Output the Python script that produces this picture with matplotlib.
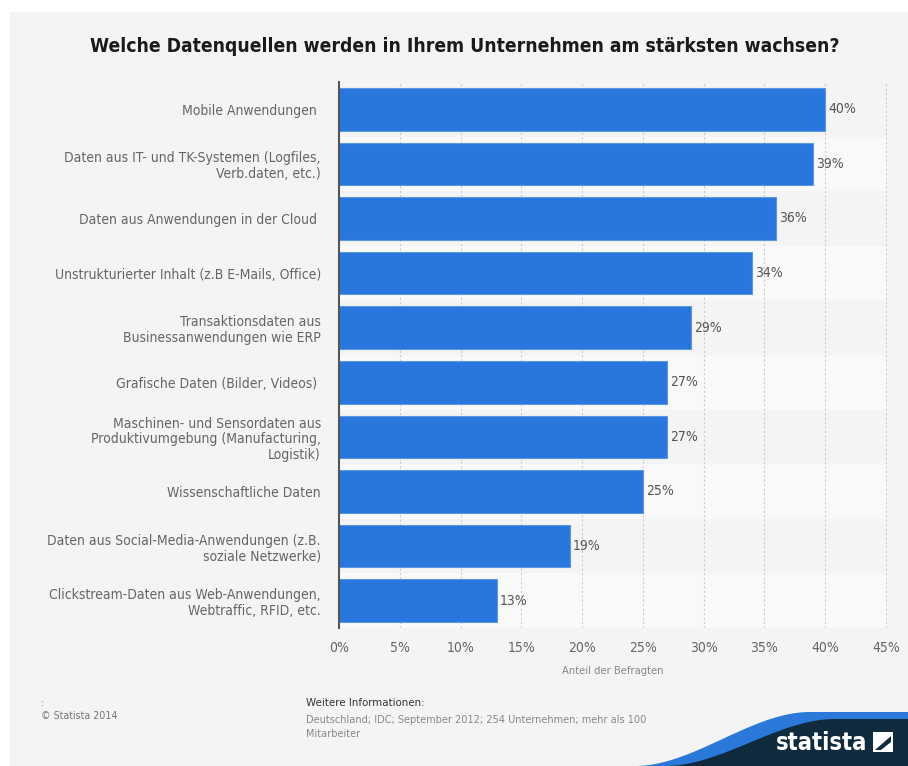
import matplotlib
matplotlib.use("Agg")
import matplotlib.pyplot as plt
from matplotlib.patches import Rectangle, Polygon
import numpy as np

categories = [
    "Mobile Anwendungen ",
    "Daten aus IT- und TK-Systemen (Logfiles,\nVerb.daten, etc.)",
    "Daten aus Anwendungen in der Cloud ",
    "Unstrukturierter Inhalt (z.B E-Mails, Office)",
    "Transaktionsdaten aus\nBusinessanwendungen wie ERP",
    "Grafische Daten (Bilder, Videos) ",
    "Maschinen- und Sensordaten aus\nProduktivumgebung (Manufacturing,\nLogistik)",
    "Wissenschaftliche Daten",
    "Daten aus Social-Media-Anwendungen (z.B.\nsoziale Netzwerke)",
    "Clickstream-Daten aus Web-Anwendungen,\nWebtraffic, RFID, etc.",
]
values = [40, 39, 36, 34, 29, 27, 27, 25, 19, 13]
xticks = [0, 5, 10, 15, 20, 25, 30, 35, 40, 45]

title = "Welche Datenquellen werden in Ihrem Unternehmen am stärksten wachsen?"
xlabel = "Anteil der Befragten"
source_head = "Weitere Informationen:"
source_text = "Deutschland; IDC; September 2012; 254 Unternehmen; mehr als 100\nMitarbeiter"
copyright_text = "© Statista 2014"

plt.rcParams["font.family"] = "DejaVu Sans"
plt.rcParams["font.stretch"] = "condensed"

W, H = 908, 766
panel = "#f4f4f4"
blue = "#2976dc"

fig = plt.figure(figsize=(W / 100, H / 100), dpi=100)
fig.patch.set_facecolor("white")
fig.patches.append(Rectangle((10 / W, 0), 1, 1 - 12 / H, transform=fig.transFigure,
                             facecolor=panel, edgecolor="none", zorder=-10))

ax = fig.add_axes([339 / W, 1 - 628 / H, 548 / W, (628 - 82) / H])
ax.set_facecolor(panel)
n = len(categories)
y = np.arange(n)

# alternating row bands
for i in range(n):
    if i % 2 == 1:
        ax.axhspan(i - 0.5, i + 0.5, color="#f9f9f9", zorder=0, lw=0)

for xt in xticks[1:]:
    ax.axvline(xt, color="#cccccc", lw=0.8, ls=(0, (2, 2)), zorder=1)

ax.barh(y, values, height=0.78, color=blue, edgecolor="#5a98e6", linewidth=0.8, zorder=2)
for yi, v in zip(y, values):
    ax.text(v + 0.25, yi, f"{v}%", va="center", ha="left", fontsize=10, color="#555555", zorder=3)

ax.set_xlim(0, 45.1)
ax.set_ylim(n - 0.5, -0.5)
ax.set_yticks(y)
ax.set_yticklabels(categories, fontsize=10, color="#666666", linespacing=1.15)
ax.set_xticks(xticks)
ax.set_xticklabels([f"{t}%" for t in xticks], fontsize=10, color="#666666")
ax.tick_params(axis="both", length=0)
ax.tick_params(axis="y", pad=13)
ax.tick_params(axis="x", pad=9)
for s in ["top", "right", "bottom"]:
    ax.spines[s].set_visible(False)
ax.spines["left"].set_color("#555555")
ax.spines["left"].set_linewidth(1.5)
ax.set_xlabel(xlabel, fontsize=8, color="#888888", labelpad=8)

fig.text(465 / W, 1 - 46 / H, title, ha="center", va="center", fontsize=13.9,
         fontweight="bold", color="#1a1a1a")

# footer
fig.text(41 / W, 1 - 703 / H, ":", fontsize=7, color="#777777", va="center")
fig.text(41 / W, 1 - 716 / H, copyright_text, fontsize=7.7, color="#777777", va="center")
fig.text(306 / W, 1 - 703 / H, source_head, fontsize=8.2, color="#333333", va="center")
fig.text(306 / W, 1 - 715 / H, source_text, fontsize=7.8, color="#888888", va="top",
         linespacing=1.5)

# logo swoosh
t = np.linspace(0, 1, 60)
xs = 635 + 175 * t
ys = 766 - 54 * (3 * t ** 2 - 2 * t ** 3)
swoosh = list(zip(xs / W, 1 - ys / H)) + [(1, 1 - 712 / H), (1, 0)]
fig.patches.append(Polygon(swoosh, closed=True, transform=fig.transFigure,
                           facecolor="#2a78d8", edgecolor="none", zorder=-5))
xs2 = 665 + 170 * t
ys2 = 766 - 47 * (3 * t ** 2 - 2 * t ** 3)
navy = list(zip(xs2 / W, 1 - ys2 / H)) + [(1, 1 - 719 / H), (1, 0)]
fig.patches.append(Polygon(navy, closed=True, transform=fig.transFigure,
                           facecolor="#0f2b3d", edgecolor="none", zorder=-4))
fig.text(822 / W, 1 - 743 / H, "statista", ha="center", va="center", fontsize=17,
         fontweight="bold", color="white")
fig.patches.append(Rectangle((873 / W, 1 - 752 / H), 20 / W, 20 / H, transform=fig.transFigure,
                             facecolor="white", edgecolor="none", zorder=-3))
fig.patches.append(Polygon([(875 / W, 1 - 750 / H), (891 / W, 1 - 736 / H), (891 / W, 1 - 742 / H),
                            (881 / W, 1 - 750 / H)], closed=True, transform=fig.transFigure,
                           facecolor="#0f2b3d", edgecolor="none", zorder=-2))

fig.savefig("out.png", dpi=100, facecolor=fig.get_facecolor())
